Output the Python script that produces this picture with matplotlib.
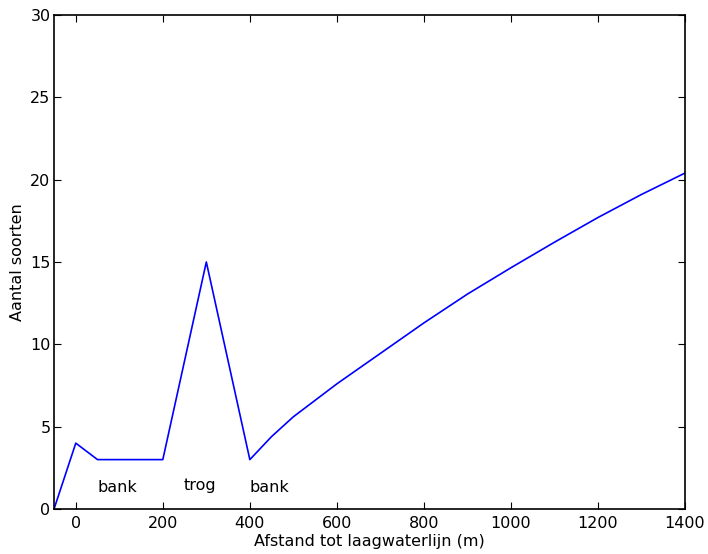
import matplotlib
matplotlib.use("Agg")
import matplotlib.pyplot as plt

afstand = [-50, 0, 50, 200, 300, 400, 450, 500, 600, 700, 800, 900, 1000, 1100, 1200, 1300, 1400]
soorten = [0, 4, 3, 3, 15, 3, 4.4, 5.6, 7.6, 9.45, 11.3, 13.05, 14.65, 16.2, 17.7, 19.1, 20.4]

labels = ["bank", "trog", "bank"]
label_x = [95, 285, 444]
label_y = [1.3, 1.45, 1.3]

plt.rcParams['font.family'] = ['DejaVu Sans']
plt.rcParams['font.size'] = 11.5

fig = plt.figure(figsize=(7.08, 5.54), dpi=100)
ax = fig.add_axes([0.0763, 0.0812, 0.8912, 0.8918])
ax.plot(afstand, soorten, color='#0000ff', linewidth=1.2)
for t, x, y in zip(labels, label_x, label_y):
    ax.text(x, y, t, ha='center', va='center', fontsize=11.5)

ax.set_xlim(-50, 1400)
ax.set_ylim(0, 30)
ax.set_xticks(range(0, 1401, 200))
ax.set_yticks(range(0, 31, 5))
ax.tick_params(direction='in', top=True, right=True, length=5, width=0.8, labelsize=11.5)
ax.tick_params(axis='x', pad=5)
ax.tick_params(axis='y', pad=2.5)
for s in ax.spines.values():
    s.set_linewidth(1.2)
ax.set_xlabel("Afstand tot laagwaterlijn (m)", labelpad=2)
ax.set_ylabel("Aantal soorten", labelpad=4)
fig.savefig("out.png", dpi=100)
